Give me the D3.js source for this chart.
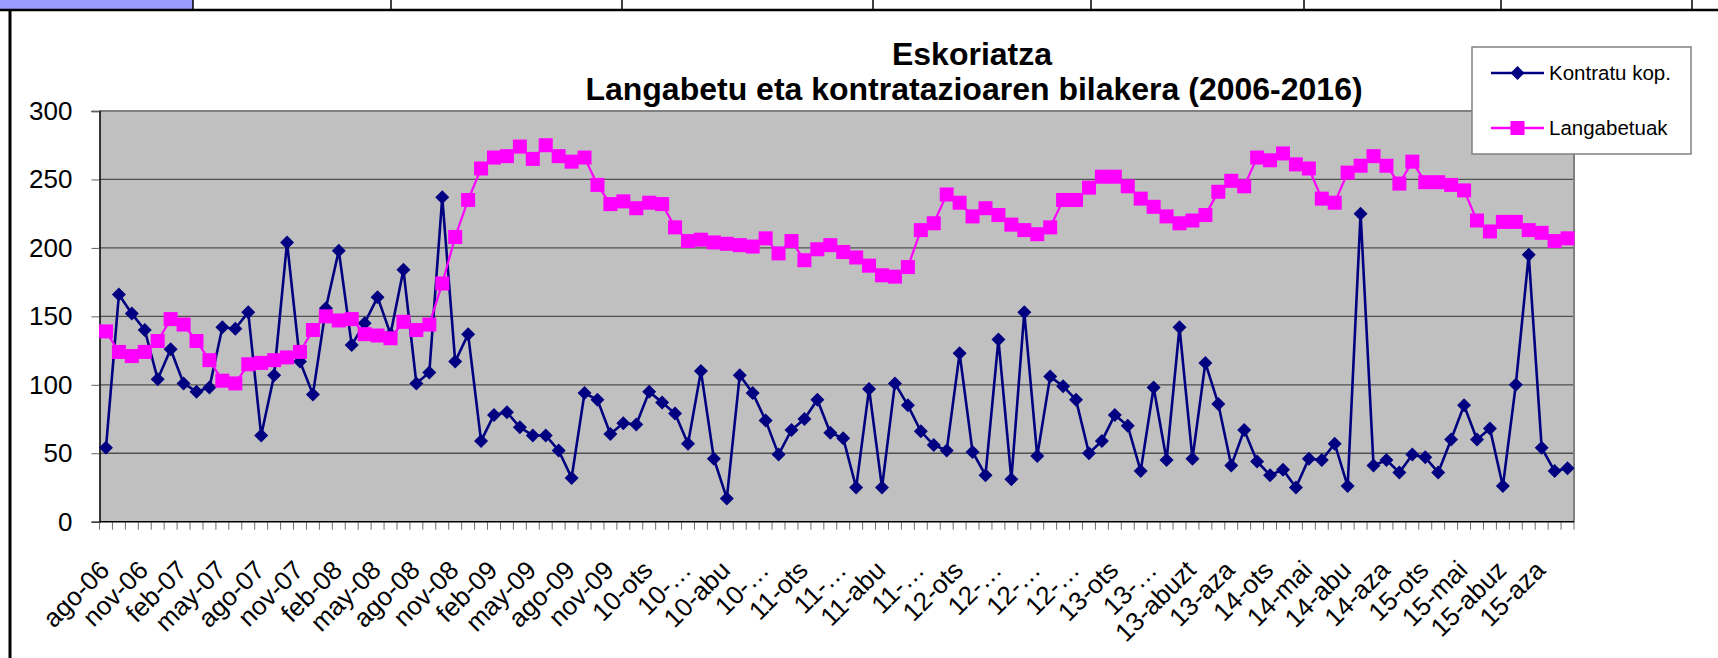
<!DOCTYPE html>
<html>
<head>
<meta charset="utf-8">
<script src="https://cdn.jsdelivr.net/npm/d3@7.9.0/dist/d3.min.js"></script>
<style>
  html, body { margin: 0; padding: 0; background: #fff; }
  svg { display: block; font-family: "Liberation Sans", Arial, sans-serif; }
</style>
</head>
<body>
<svg id="chart" width="1718" height="658"></svg>
<script>
// chart data, one value per month, ago-06 .. 16-urt
const kontratuak = [
  54, 166, 152, 140, 104, 126, 101, 95, 98, 142, 141, 153, 63, 107, 204, 117, 93, 156, 198, 129,
  145, 164, 137, 184, 101, 109, 237, 117, 137, 59, 78, 80, 69, 63, 63, 52, 32, 94, 89, 64,
  72, 71, 95, 87, 79, 57, 110, 46, 17, 107, 94, 74, 49, 67, 75, 89, 65, 61, 25, 97,
  25, 101, 85, 66, 56, 52, 123, 51, 34, 133, 31, 153, 48, 106, 99, 89, 50, 59, 78, 70,
  37, 98, 45, 142, 46, 116, 86, 41, 67, 44, 34, 38, 25, 46, 45, 57, 26, 225, 41, 45,
  36, 49, 47, 36, 60, 85, 60, 68, 26, 100, 195, 54, 37, 39
];
const langabetuak = [
  139, 124, 121, 124, 132, 148, 144, 132, 118, 103, 101, 115, 116, 118, 120, 124, 140, 150, 147, 148,
  137, 136, 134, 146, 140, 144, 174, 208, 235, 258, 266, 267, 274, 265, 275, 267, 263, 266, 246, 232,
  234, 229, 233, 232, 215, 205, 206, 204, 203, 202, 201, 207, 196, 205, 191, 199, 202, 197, 193, 187,
  180, 179, 186, 213, 218, 239, 233, 223, 229, 224, 217, 213, 210, 215, 235, 235, 244, 252, 252, 245,
  236, 230, 223, 218, 220, 224, 241, 249, 245, 266, 264, 269, 261, 258, 236, 233, 255, 260, 267, 260,
  247, 263, 248, 248, 246, 242, 220, 212, 219, 219, 213, 211, 205, 207
];
// one label every third month
const tickLabels = [
  "ago-06", "nov-06", "feb-07", "may-07", "ago-07", "nov-07", "feb-08", "may-08", "ago-08", "nov-08",
  "feb-09", "may-09", "ago-09", "nov-09", "10-ots", "10-…", "10-abu", "10-…", "11-ots", "11-…",
  "11-abu", "11-…", "12-ots", "12-…", "12-…", "12-…", "13-ots", "13-…", "13-abuzt", "13-aza",
  "14-ots", "14-mai", "14-abu", "14-aza", "15-ots", "15-mai", "15-abuz", "15-aza"
];
const yTicks = [0, 50, 100, 150, 200, 250, 300];
const seriesNames = ["Kontratu kop.", "Langabetuak"];
const seriesColors = ["#000080", "#ff00ff"];

const svg = d3.select("#chart");
const plot = { left: 99.5, right: 1574, top: 111, bottom: 521.7 };

const n = kontratuak.length;
const x = d3.scaleLinear().domain([-0.5, n - 0.5]).range([plot.left, plot.right]);
const y = d3.scaleLinear().domain([0, 300]).range([plot.bottom, plot.top]);

const diamond = "M0,-7L7,0L0,7L-7,0Z";

// spreadsheet bits above the chart
svg.append("rect").attr("x", 0).attr("y", 0).attr("width", 193).attr("height", 9).attr("fill", "#9999ff");
svg.append("line").attr("x1", 0).attr("x2", 1718).attr("y1", 10).attr("y2", 10)
  .attr("stroke", "#000").attr("stroke-width", 2.5);
[193, 391, 622, 873, 1091, 1304, 1501, 1692].forEach(cx => {
  svg.append("line").attr("x1", cx).attr("x2", cx).attr("y1", 0).attr("y2", 10)
    .attr("stroke", "#000").attr("stroke-width", 1.5);
});
svg.append("line").attr("x1", 10).attr("x2", 10).attr("y1", 9).attr("y2", 658)
  .attr("stroke", "#000").attr("stroke-width", 3);

// plot background
svg.append("rect")
  .attr("x", plot.left).attr("y", plot.top)
  .attr("width", plot.right - plot.left).attr("height", plot.bottom - plot.top)
  .attr("fill", "#c0c0c0");

// gridlines
svg.append("g").selectAll("line")
  .data(yTicks.filter(v => v > 0 && v < 300))
  .join("line")
  .attr("x1", plot.left).attr("x2", plot.right)
  .attr("y1", d => y(d)).attr("y2", d => y(d))
  .attr("stroke", "#505050").attr("stroke-width", 1.3);

// top / right frame in gray
svg.append("path")
  .attr("d", `M${plot.left},${plot.top}H${plot.right}V${plot.bottom}`)
  .attr("fill", "none").attr("stroke", "#808080").attr("stroke-width", 2);

// y axis
const yAxis = svg.append("g")
  .attr("transform", `translate(${plot.left},0)`)
  .call(d3.axisLeft(y).tickValues(yTicks).tickSize(8).tickPadding(19));
yAxis.select(".domain").attr("stroke", "#000").attr("stroke-width", 1.5);
yAxis.selectAll(".tick line").attr("stroke", "#606060");
yAxis.selectAll("text").attr("font-size", 26).attr("fill", "#000")
  .attr("font-family", "Liberation Sans, Arial, sans-serif");

// x axis: tick marks between months, labels every third month
svg.append("g").selectAll("line")
  .data(d3.range(n + 1))
  .join("line")
  .attr("x1", d => x(d - 0.5)).attr("x2", d => x(d - 0.5))
  .attr("y1", plot.bottom).attr("y2", plot.bottom + 8)
  .attr("stroke", "#707070").attr("stroke-width", 1);
svg.append("line")
  .attr("x1", plot.left).attr("x2", plot.right)
  .attr("y1", plot.bottom).attr("y2", plot.bottom)
  .attr("stroke", "#000").attr("stroke-width", 1.5);

svg.append("g").selectAll("text")
  .data(tickLabels)
  .join("text")
  .attr("transform", (d, i) => `translate(${x(i * 3) + 5},${plot.bottom + 50}) rotate(-45)`)
  .attr("text-anchor", "end")
  .attr("font-size", 26)
  .text(d => d);

// series
const line = d3.line().x((d, i) => x(i)).y(d => y(d));

function drawSeries(values, color, marker) {
  const g = svg.append("g");
  g.append("path")
    .datum(values)
    .attr("d", line)
    .attr("fill", "none")
    .attr("stroke", color)
    .attr("stroke-width", marker === "diamond" ? 2.6 : 2.2);
  if (marker === "diamond") {
    g.selectAll("path.m")
      .data(values)
      .join("path")
      .attr("class", "m")
      .attr("d", diamond)
      .attr("transform", (d, i) => `translate(${x(i)},${y(d)})`)
      .attr("fill", color);
  } else {
    g.selectAll("rect")
      .data(values)
      .join("rect")
      .attr("x", (d, i) => x(i) - 7).attr("y", d => y(d) - 7)
      .attr("width", 14).attr("height", 14)
      .attr("fill", color);
  }
}
drawSeries(kontratuak, seriesColors[0], "diamond");
drawSeries(langabetuak, seriesColors[1], "square");

// title
const title = svg.append("text")
  .attr("text-anchor", "middle")
  .attr("font-weight", "bold")
  .attr("font-size", 32);
title.append("tspan").attr("x", 972).attr("y", 65).text("Eskoriatza");
title.append("tspan").attr("x", 974).attr("y", 100).text("Langabetu eta kontratazioaren bilakera (2006-2016)");

// legend
const lg = svg.append("g");
lg.append("rect")
  .attr("x", 1472).attr("y", 47).attr("width", 219).attr("height", 107)
  .attr("fill", "#fff").attr("stroke", "#808080").attr("stroke-width", 1.5);
const items = lg.selectAll("g.item")
  .data(seriesNames)
  .join("g")
  .attr("class", "item")
  .attr("transform", (d, i) => `translate(1491,${i === 0 ? 73 : 128})`);
items.append("line")
  .attr("x1", 0).attr("x2", 53)
  .attr("stroke", (d, i) => seriesColors[i]).attr("stroke-width", 2.4);
items.each(function (d, i) {
  const it = d3.select(this);
  if (i === 0) {
    it.append("path")
      .attr("d", diamond)
      .attr("transform", "translate(26.5,0)")
      .attr("fill", seriesColors[0]);
  } else {
    it.append("rect").attr("x", 19.5).attr("y", -7).attr("width", 14).attr("height", 14)
      .attr("fill", seriesColors[1]);
  }
});
items.append("text")
  .attr("x", 58).attr("dy", "0.36em")
  .attr("font-size", 20.5)
  .text(d => d);
</script>
</body>
</html>
